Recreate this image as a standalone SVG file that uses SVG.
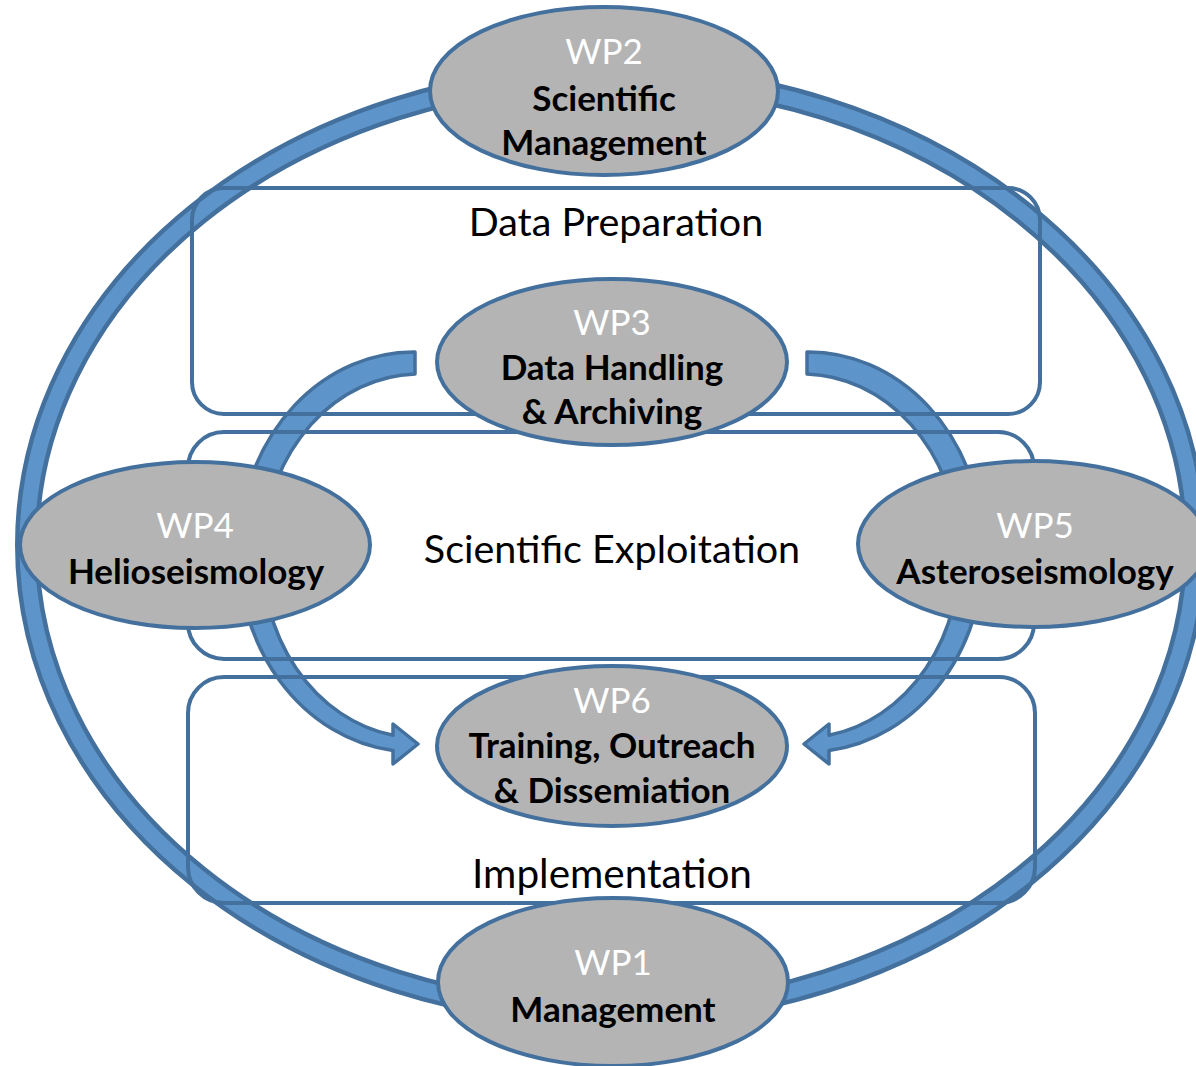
<svg xmlns="http://www.w3.org/2000/svg" width="1196" height="1066" viewBox="0 0 1196 1066">
  <style>
    .ring-out { fill: none; stroke: #44709e; stroke-width: 24; }
    .ring-in { fill: none; stroke: #5d95ca; stroke-width: 15; }
    .frame { fill: none; stroke: #44709e; stroke-width: 4; }
    .wp { fill: #b4b4b4; stroke: #44709e; stroke-width: 4; }
    .band { fill: #5d95ca; stroke: #44709e; stroke-width: 3.5; stroke-linejoin: round; }
    text { font-family: Lato, "Open Sans", "Liberation Sans", sans-serif; text-anchor: middle; }
    .num { fill: #ffffff; font-size: 35px; }
    .name { fill: #000000; font-size: 35px; font-weight: bold; }
    .section { fill: #000000; font-size: 39.5px; }
  </style>

  <!-- outer cycle ring -->
  <g id="ring">
    <ellipse class="ring-out" cx="611" cy="545" rx="584" ry="469"/>
    <ellipse class="ring-in" cx="611" cy="545" rx="584" ry="469"/>
  </g>

  <!-- curved arrows from WP3 via WP4 / WP5 into WP6 -->
  <g id="connectors">
    <path id="arrow-left" class="band" d="M415,352 A175,200 0 0 0 393,750.6 L393,764 L418,744 L393,724 L393,735.3 A157,182 0 0 1 415,374 Z"/>
    <path id="arrow-right" class="band" transform="matrix(-1 0 0 1 1222 0)" d="M415,352 A175,200 0 0 0 393,750.6 L393,764 L418,744 L393,724 L393,735.3 A157,182 0 0 1 415,374 Z"/>
  </g>

  <!-- phase frames -->
  <g id="frames">
    <g id="data-preparation">
      <rect class="frame" x="192" y="188" width="848" height="226" rx="32"/>
      <text class="section" x="616" y="236">Data Preparation</text>
    </g>
    <g id="scientific-exploitation">
      <rect class="frame" x="188" y="432" width="846" height="227" rx="36"/>
      <text class="section" x="612" y="563">Scientific Exploitation</text>
    </g>
    <g id="implementation">
      <rect class="frame" x="188" y="677" width="847" height="226" rx="36"/>
      <text class="section" x="612" y="888" style="font-size:40.5px">Implementation</text>
    </g>
  </g>

  <!-- work packages -->
  <g id="wp2">
    <ellipse class="wp" cx="604" cy="91" rx="174" ry="84"/>
    <text class="num" x="604" y="64">WP2</text>
    <text class="name" x="604" y="111">Scientific</text>
    <text class="name" x="604" y="155">Management</text>
  </g>
  <g id="wp3">
    <ellipse class="wp" cx="612" cy="362" rx="175" ry="83"/>
    <text class="num" x="612" y="335">WP3</text>
    <text class="name" x="612" y="380">Data Handling</text>
    <text class="name" x="612" y="424">&amp; Archiving</text>
  </g>
  <g id="wp4">
    <ellipse class="wp" cx="195" cy="545" rx="175" ry="83"/>
    <text class="num" x="195" y="538">WP4</text>
    <text class="name" x="196" y="584">Helioseismology</text>
  </g>
  <g id="wp5">
    <ellipse class="wp" cx="1033" cy="544" rx="175" ry="83"/>
    <text class="num" x="1035" y="538">WP5</text>
    <text class="name" x="1035" y="584">Asteroseismology</text>
  </g>
  <g id="wp6">
    <ellipse class="wp" cx="612" cy="746" rx="175" ry="80"/>
    <text class="num" x="612" y="713">WP6</text>
    <text class="name" x="612" y="758">Training, Outreach</text>
    <text class="name" x="612" y="803">&amp; Dissemiation</text>
  </g>
  <g id="wp1">
    <ellipse class="wp" cx="613" cy="982" rx="175" ry="84"/>
    <text class="num" x="613" y="975">WP1</text>
    <text class="name" x="613" y="1022">Management</text>
  </g>
</svg>
